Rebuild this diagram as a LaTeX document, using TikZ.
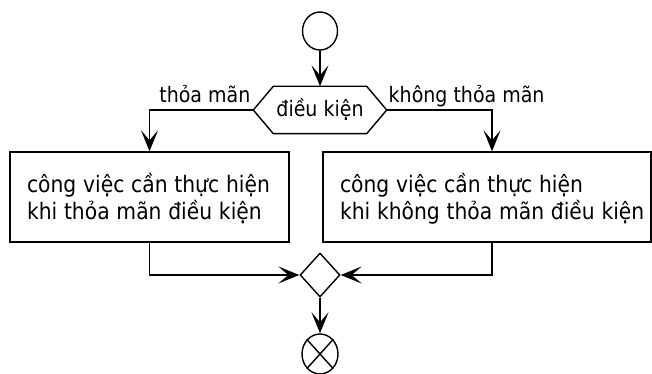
\documentclass[tikz,border=0pt]{standalone}
\usepackage{graphicx}
\usepackage{fontspec}
\setmainfont{DejaVu Sans}
\usetikzlibrary{arrows.meta,shapes.geometric}
\newcommand{\talltext}[1]{\scalebox{1}[1.12]{#1}}
\newcommand{\twolines}[2]{\talltext{\begin{tabular}[t]{@{}l@{}}#1\\#2\end{tabular}}}
\begin{document}
\begin{tikzpicture}[x=1pt,y=-1pt,
  line width=1.4pt,
  flow/.style={-{Stealth[length=21pt,width=17pt,inset=10pt]}},
  actbox/.style={draw, rectangle, minimum height=90pt, inner xsep=17pt, inner ysep=0pt, align=left,
    text height=20pt, text depth=30pt, font=\fontsize{20.3}{23.8}\selectfont},
  lbl/.style={font=\fontsize{19}{22}\selectfont, inner sep=0pt},
  hexnode/.style={minimum width=132pt, minimum height=46pt, inner sep=0pt, font=\fontsize{19}{22}\selectfont, text height=19pt, text depth=5pt},
  startnode/.style={ellipse, draw, minimum width=35pt, minimum height=38pt, inner sep=0pt},
  stopnode/.style={ellipse, draw, minimum width=36pt, minimum height=40pt, inner sep=0pt},
  mergenode/.style={diamond, draw, minimum width=40pt, minimum height=44pt, inner sep=0pt},
]
\useasboundingbox (0,0) rectangle (652,374);

\node[startnode] (start) at (320,31) {};
\node[hexnode] (cond) at (320,110) {\talltext{điều kiện}};
\draw (cond.west) -- ([xshift=20pt]cond.north west) -- ([xshift=-20pt]cond.north east)
  -- (cond.east) -- ([xshift=-20pt]cond.south east) -- ([xshift=20pt]cond.south west) -- cycle;

\node[actbox, text width=245pt] (b1) at (149.5,197) {\twolines{công việc cần thực hiện}{khi thỏa mãn điều kiện}};
\node[actbox, text width=294pt] (b2) at (487,197) {\twolines{công việc cần thực hiện}{khi không thỏa mãn điều kiện}};

\node[mergenode] (merge) at (320,275) {};
\node[stopnode] (stop) at (320,354) {};
\draw (stop.north east) -- (stop.south west) (stop.north west) -- (stop.south east);

\node[lbl, anchor=base east] (l1) at (251,103) {\talltext{thỏa mãn}};
\node[lbl, anchor=base west] (l2) at (388,103) {\talltext{không thỏa mãn}};

\draw[flow] (start) -- (cond);
\draw[flow] (cond.west) -| (b1.north);
\draw[flow] (cond.east) -| ([xshift=5pt]b2.north);
\draw[flow] (b1.south) |- (merge.west);
\draw[flow] ([xshift=5pt]b2.south) |- (merge.east);
\draw[flow] (merge) -- (stop);
\end{tikzpicture}
\end{document}
